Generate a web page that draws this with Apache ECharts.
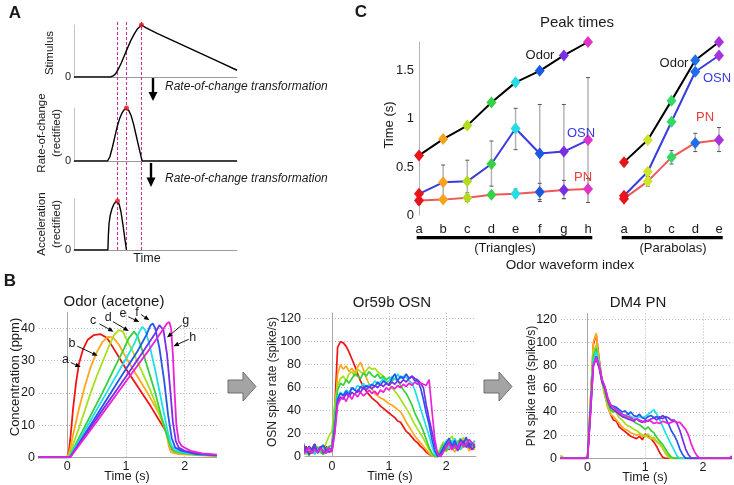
<!DOCTYPE html>
<html><head><meta charset="utf-8">
<script src="https://cdn.jsdelivr.net/npm/echarts@6/dist/echarts.min.js"></script>
<style>html,body{margin:0;padding:0;background:#fff}#c{width:734px;height:485px}</style>
</head><body><div id="c"></div>
<script>
// ---------- Panel A data ----------
const stimT = [0,0.224,0.24,0.255,0.27,0.29,0.31,0.33,0.35,0.37,0.39,0.414,0.44,0.47,0.51,0.6,0.7,0.8,0.9,1.0];
const stimV = [0,0,0.02,0.06,0.14,0.27,0.42,0.57,0.71,0.83,0.93,1.0,0.95,0.9,0.84,0.71,0.565,0.42,0.275,0.13];
const rateT = [0,0.206,0.22,0.235,0.25,0.265,0.28,0.295,0.31,0.322,0.335,0.35,0.365,0.38,0.395,0.41,0.418,1.0];
const rateV = [0,0,0.08,0.25,0.45,0.65,0.8,0.91,0.98,1.0,0.96,0.86,0.7,0.5,0.3,0.1,0,0];
const accT = [0,0.208,0.211,0.215,0.222,0.232,0.245,0.257,0.267,0.277,0.288,0.3,0.312,0.322];
const accV = [0,0,0.3,0.52,0.68,0.8,0.9,0.95,0.96,0.9,0.75,0.5,0.22,0];

// ---------- Panel C data ----------
const triLabels = ['a','b','c','d','e','f','g','h'];
const paraLabels = ['a','b','c','d','e'];
const triColors = ['#e8141c','#f5a21e','#b4dc1e','#38d048','#22dde6','#1c58e0','#7a2ee0','#e033c8'];
const paraColors = ['#e8141c','#cde52a','#33d966','#1f6fe6','#a634de'];
const triOdor = [0.62,0.79,0.93,1.17,1.38,1.50,1.66,1.80];
const triOSN  = [0.22,0.34,0.35,0.53,0.90,0.64,0.66,0.78];
const triOSNlo = [0.19,0.16,0.14,0.30,0.68,0.14,0.17,0.13];
const triOSNhi = [0.25,0.52,0.57,0.77,1.11,1.15,1.15,1.43];
const triPN   = [0.15,0.16,0.18,0.21,0.22,0.24,0.26,0.27];
const triPNlo = [0.11,0.13,0.14,0.18,0.18,0.16,0.17,0.13];
const triPNhi = [0.19,0.19,0.23,0.24,0.27,0.33,0.36,0.38];
const paraOdor = [0.55,0.78,1.19,1.61,1.80];
const paraOSN  = [0.20,0.45,0.97,1.49,1.66];
const paraPN   = [0.17,0.35,0.60,0.75,0.78];
const paraPNlo = [0.14,0.30,0.53,0.66,0.66];
const paraPNhi = [0.20,0.40,0.67,0.85,0.91];

// ---------- Panel B data ----------
const curveNames = ['a','b','c','d','e','f','g','h'];
const curveColors = ['#f01414','#ffa81e','#a6e01a','#36d13a','#1ee0e6','#2356ec','#7a2eec','#ec22d8'];
// Odor concentration (ppm) vs time (s)
const odorA = [[-0.5,0],[0,0],[0.03,2],[0.06,7],[0.1,15],[0.15,23],[0.2,29],[0.27,33.5],[0.35,36.5],[0.45,37.9],[0.57,38.2],[0.68,37],[0.8,33.5],[0.9,30.5],[1.0,27.5],[1.2,22],[1.4,16.5],[1.6,10.5],[1.7,7.5],[1.74,5],[1.78,2.5],[1.83,1.6],[1.95,1.2],[2.2,0.8],[2.55,0.5]];
const odorB = [[-0.5,0],[0,0],[0.05,2.5],[0.1,7],[0.2,15],[0.3,22],[0.4,28],[0.5,32.5],[0.6,35.8],[0.7,37.4],[0.78,37.2],[0.88,35],[1.0,31],[1.2,25],[1.4,19],[1.55,14],[1.65,10],[1.7,7],[1.73,3.5],[1.77,1.5],[1.9,1],[2.2,0.7],[2.55,0.4]];
const odorC = [[-0.5,0],[0.02,0],[0.1,4],[0.2,9],[0.3,14.5],[0.4,20],[0.5,25],[0.6,29.5],[0.7,34],[0.8,38],[0.88,39.5],[0.95,39],[1.0,37],[1.1,33.5],[1.2,29.5],[1.3,25.5],[1.4,21.5],[1.5,17],[1.6,12],[1.7,7],[1.76,3.5],[1.82,1.8],[1.95,1.2],[2.2,0.8],[2.55,0.5]];
const odorD = [[-0.5,0],[0.03,0],[0.2,6],[0.4,13],[0.6,20],[0.8,27.5],[0.95,33],[1.05,37],[1.14,39],[1.2,37.5],[1.3,32],[1.4,26],[1.5,20],[1.6,13],[1.7,6.5],[1.76,3.5],[1.82,2],[1.95,1.3],[2.2,0.8],[2.55,0.5]];
const odorE = [[-0.5,0],[0.04,0],[0.1,2],[0.4,11.5],[0.7,21],[1.0,30.5],[1.15,35.5],[1.23,39],[1.28,40.5],[1.33,39.5],[1.4,35],[1.5,27],[1.6,18],[1.7,9],[1.77,4],[1.83,2.3],[1.95,1.5],[2.2,0.9],[2.55,0.6]];
const odorF = [[-0.5,0],[0.05,0],[0.1,1.5],[0.5,13],[0.9,24.5],[1.2,33],[1.35,38],[1.42,41],[1.46,41.5],[1.5,40],[1.57,34],[1.65,24],[1.72,13],[1.78,6],[1.84,3],[1.95,2],[2.2,1],[2.55,0.6]];
const odorG = [[-0.5,0],[0.05,0],[0.1,1.3],[0.5,12],[1.0,25],[1.3,33],[1.5,38.5],[1.57,41],[1.6,41.3],[1.64,39.5],[1.7,32],[1.76,20],[1.8,11],[1.85,5],[1.9,3],[2.0,2],[2.2,1.2],[2.55,0.7]];
const odorH = [[-0.5,0],[0.05,0],[0.1,1.2],[0.5,11],[1.0,23.5],[1.4,33.5],[1.6,38.8],[1.7,41.5],[1.74,42],[1.77,40],[1.8,32],[1.83,20],[1.86,10],[1.9,5],[1.95,3.5],[2.1,2],[2.3,1.2],[2.55,0.8]];
// annotation (letter position, arrow tail, arrow tip) in odor-panel data coords
const annLabels = ['a','b','c','d','e','f','g','h'];
const annText = [[-0.03,30.4],[0.08,35.2],[0.44,42.3],[0.70,43.3],[0.95,44.5],[1.19,45.0],[2.02,42.3],[2.14,37.2]];
const annTail = [[0.06,29.4],[0.17,34.5],[0.55,41.4],[0.78,42.1],[1.04,43.6],[1.26,44.3],[1.95,41.0],[2.07,36.6]];
const annTip  = [[0.23,28.0],[0.52,31.5],[0.79,39.0],[1.05,39.2],[1.23,42.0],[1.40,42.5],[1.70,37.2],[1.81,34.5]];

// spike-rate time base (s)
const rateTime = [-0.5,-0.45,-0.4,-0.35,-0.3,-0.25,-0.2,-0.15,-0.1,-0.05,0,0.05,0.1,0.15,0.2,0.25,0.3,0.35,0.4,0.45,0.5,0.55,0.6,0.65,0.7,0.75,0.8,0.85,0.9,0.95,1,1.05,1.1,1.15,1.2,1.25,1.3,1.35,1.4,1.45,1.5,1.55,1.6,1.65,1.7,1.75,1.8,1.85,1.9,1.95,2,2.05,2.1,2.15,2.2,2.25,2.3,2.35,2.4,2.45,2.5];
// OSN spike rate (spike/s)
const osnA = [5,9,3,7,11,4,8,3,9,5, 8,42,95,100,99,96,91,85,79,72, 66,61,57,54,51,49,47,44,42,40, 38,36,34,31,30,26,22,20,17,14, 12,9,7,4,2,1,0,0,3,8, 13,6,11,15,8,12,9,13,7,11,8];
const osnB = [3,6,2,5,10,4,7,2,6,4, 6,32,72,80,76,79,74,77,73,78, 82,76,69,63,59,55,53,51,50,48, 46,45,43,41,39,35,30,26,22,18, 15,12,9,6,3,1,0,0,5,10, 6,12,8,4,10,6,9,12,5,8,6];
const osnC = [4,2,8,3,5,9,3,6,12,18, 22,46,62,68,70,66,72,74,70,76, 74,72,75,78,76,77,74,72,70,66, 63,60,57,54,50,46,42,38,33,28, 24,20,16,11,6,2,0,2,8,13, 4,15,18,10,14,7,17,12,15,10,12];
const osnD = [2,5,1,6,3,8,4,2,7,9, 10,36,58,64,62,67,64,68,72,70, 68,73,70,74,71,69,72,68,70,67, 69,66,68,66,62,58,55,50,45,38, 33,28,22,15,8,3,0,1,6,11, 5,9,14,7,12,16,8,11,14,9,10];
const osnE = [6,3,9,4,2,7,5,10,3,6, 5,28,52,56,54,58,56,60,58,62, 60,64,60,63,62,66,63,65,68,64, 66,70,67,72,68,70,69,66,64,58, 50,42,34,26,18,9,2,0,4,9, 14,7,12,16,10,6,13,9,15,11,14];
const osnF = [12,4,9,6,11,3,8,10,5,7, 6,25,50,55,53,57,54,60,58,56, 61,59,62,60,63,61,65,62,66,64, 62,68,72,66,70,68,72,68,70,66, 66,60,50,38,28,15,5,0,3,8, 12,16,9,14,7,15,11,17,8,12,9];
const osnG = [3,7,2,5,8,4,9,3,6,4, 5,22,48,52,50,55,52,56,54,58, 56,60,58,61,59,62,60,63,61,64, 62,65,63,66,64,67,65,68,70,68, 67,64,60,45,33,22,10,3,0,5, 9,13,7,11,5,10,14,8,12,6,9];
const osnH = [2,5,8,3,6,4,7,5,3,8, 4,20,45,50,52,48,54,50,55,52, 56,53,55,58,55,57,54,58,56,60, 58,61,59,62,60,63,61,64,62,65, 63,64,63,62,67,40,15,2,0,4, 8,12,6,10,7,13,9,11,15,12,10];
// PN spike rate (spike/s)
const pnA = [0,0,0,0,0,0,0,0,0,0, 1,48,98,107,86,68,55,45,38,33, 32,27,25,23,21,19,18,17,19,16, 21,19,17,14,10,5,1,0,0,0, 0,0,0,0,0,0,0,0,0,0, 0,0,0,0,0,0,0,0,0,0,0];
const pnB = [0,0,0,0,0,0,0,0,0,0, 1,45,100,108,84,66,54,44,38,36, 33,30,27,25,24,22,21,20,21,19, 20,18,17,18,14,12,9,5,2,0, 0,0,0,0,0,0,0,0,0,0, 0,0,0,0,0,0,0,0,0,0,0];
const pnC = [2,2,0,0,0,0,0,0,0,0, 2,50,92,98,82,66,56,46,40,42, 39,35,33,30,28,27,25,24,22,20, 19,21,18,16,15,13,9,4,1,0, 0,0,0,0,0,0,0,0,0,0, 0,0,0,0,0,0,0,0,0,0,0];
const pnD = [0,0,0,0,0,0,0,0,0,0, 1,46,88,95,80,66,58,48,42,40, 42,38,37,36,34,35,32,30,29,27, 25,27,24,22,18,15,12,8,4,1, 0,0,0,0,0,0,0,0,0,0, 0,0,0,0,0,0,0,0,0,0,0];
const pnE = [0,0,0,0,0,0,0,0,0,0, 0,42,84,92,82,68,60,52,46,44, 43,40,38,37,38,36,35,34,36,35, 36,38,40,42,38,33,28,22,17,12, 7,2,0,0,0,0,0,0,0,0, 0,0,0,0,0,0,0,0,0,0,0];
const pnF = [0,0,0,0,0,0,0,0,0,0, 0,40,80,88,80,68,62,52,46,45, 44,42,40,41,38,40,37,36,38,35, 34,36,37,35,36,34,37,35,30,24, 20,15,8,3,0,0,0,0,0,0, 0,0,0,0,0,0,0,0,0,0,0];
const pnG = [0,0,0,0,0,0,0,0,0,0, 0,38,80,86,78,66,60,50,44,42, 40,38,36,35,34,33,32,34,32,31, 33,32,34,35,33,36,34,36,35,33, 33,30,24,16,8,3,0,0,0,0, 0,0,0,0,0,0,0,0,0,0,0];
const pnH = [0,0,0,0,0,0,0,0,0,0, 0,38,80,87,80,68,62,52,46,44, 42,40,38,37,36,35,33,34,33,32, 31,33,32,30,31,30,32,31,30,31, 32,31,31,28,25,20,12,6,2,0, 0,0,0,0,0,0,0,0,0,0,2];

// ---------- build ----------
const FONT = '"Liberation Sans", Arial, Helvetica, sans-serif';
const TXT = '#1a1a1a';
const AX = '#a8a8a8';
const odorCurves = [odorA,odorB,odorC,odorD,odorE,odorF,odorG,odorH];
const osnCurves = [osnA,osnB,osnC,osnD,osnE,osnF,osnG,osnH];
const pnCurves = [pnA,pnB,pnC,pnD,pnE,pnF,pnG,pnH];
const zip = (xs, ys) => xs.map((x, i) => [x, ys[i]]);
const argmax = ys => ys.reduce((b, v, i) => v > ys[b] ? i : b, 0);

const grids = [
  {left:74, top:25, width:163, height:52},
  {left:74, top:108, width:163, height:53},
  {left:74, top:199, width:163, height:51},
  {left:74, top:22, width:163, height:228},
  {left:419, top:42, width:169, height:173},
  {left:624, top:42, width:95, height:173},
  {left:39, top:312.3, width:177.9, height:145},
  {left:305, top:313, width:171, height:143.7},
  {left:561, top:313.5, width:170.8, height:144.8}
];

const xAxes = [], yAxes = [];
// A
for (let g = 0; g < 3; g++) {
  xAxes.push({gridIndex:g, type:'value', min:0, max:1, axisLine:{show:true, onZero:false, lineStyle:{color:'#9a9a9a', width:1}}, axisTick:{show:false}, axisLabel:{show:false}, splitLine:{show:false}});
  yAxes.push({gridIndex:g, type:'value', min:0, max:1, axisLine:{show:true, lineStyle:{color:'#c4c4c4'}}, axisTick:{show:false}, axisLabel:{show:true, customValues:[0], fontSize:11, color:TXT, fontFamily:FONT, margin:3}, splitLine:{show:false}});
}
xAxes.push({gridIndex:3, type:'value', min:0, max:1, show:false});
yAxes.push({gridIndex:3, type:'value', min:0, max:1, show:false});
// C
xAxes.push({gridIndex:4, type:'category', data:triLabels, boundaryGap:false, axisLine:{show:false}, axisTick:{show:false}, axisLabel:{fontSize:13, color:TXT, fontFamily:FONT, margin:8}});
yAxes.push({gridIndex:4, type:'value', min:0, max:1.8, axisLine:{show:true, lineStyle:{color:'#b4b4b4'}}, axisTick:{show:false}, axisLabel:{customValues:[0,0.5,1,1.5], fontSize:13, color:TXT, fontFamily:FONT, margin:5}, splitLine:{show:false}});
xAxes.push({gridIndex:5, type:'category', data:paraLabels, boundaryGap:false, axisLine:{show:false}, axisTick:{show:false}, axisLabel:{fontSize:13, color:TXT, fontFamily:FONT, margin:8}});
yAxes.push({gridIndex:5, type:'value', min:0, max:1.8, show:false});
// B
const bX = [[-0.48,2.55],[-0.47,2.52],[-0.46,2.5]];
const bY = [[45,[0,10,20,30,40]],[125,[0,20,40,60,80,100,120]],[125,[0,20,40,60,80,100,120]]];
for (let k = 0; k < 3; k++) {
  const g = 6 + k;
  xAxes.push({gridIndex:g, type:'value', min:bX[k][0], max:bX[k][1],
    axisLine:{show:true, onZero:false, lineStyle:{color:AX}},
    axisTick:{show:false, customValues:[0,1,2]},
    axisLabel:{customValues:[0,1,2], fontSize:12.5, color:TXT, fontFamily:FONT, margin:3},
    splitLine:{show:true, lineStyle:{type:[1,2], color:'#b8b8b8', width:1}}});
  yAxes.push({gridIndex:g, type:'value', min:0, max:bY[k][0],
    axisLine:{show:true, lineStyle:{color:AX}},
    axisTick:{show:false, customValues:bY[k][1]},
    axisLabel:{customValues:bY[k][1], fontSize:12.5, color:TXT, fontFamily:FONT, margin:4},
    splitLine:{show:true, lineStyle:{type:[1,2], color:'#b8b8b8', width:1}}});
}

const series = [];
// A curves
const aCurves = [[stimT,stimV],[rateT,rateV],[accT,accV]];
const peakTimes = [];
aCurves.forEach((c, g) => {
  series.push({type:'line', xAxisIndex:g, yAxisIndex:g, data:zip(c[0], c[1]), showSymbol:false, symbol:'none', lineStyle:{color:'#000', width:1.4}, z:3, silent:true});
  const im = argmax(c[1]);
  peakTimes.push(c[0][im]);
  series.push({type:'scatter', xAxisIndex:g, yAxisIndex:g, data:[[c[0][im], c[1][im]]], symbol:'circle', symbolSize:5, itemStyle:{color:'#e8141c'}, z:5, silent:true});
});
peakTimes.forEach(t => {
  series.push({type:'line', xAxisIndex:3, yAxisIndex:3, data:[[t,0],[t,1]], showSymbol:false, symbol:'none', lineStyle:{color:'#c8349c', width:1.1, type:[3,2]}, z:2, silent:true});
});

// C series
function errSeries(xi, lo, hi) {
  return {type:'custom', xAxisIndex:xi, yAxisIndex:xi, z:1, silent:true,
    data: lo.map((l, i) => [i, l, hi[i]]),
    encode:{x:0, y:[1,2]},
    renderItem: (params, api) => {
      const p1 = api.coord([api.value(0), api.value(1)]);
      const p2 = api.coord([api.value(0), api.value(2)]);
      return {type:'group', children:[
        {type:'line', shape:{x1:p1[0], y1:p1[1], x2:p2[0], y2:p2[1]}, style:{stroke:'#b4b4b4', lineWidth:1.5}},
        {type:'line', shape:{x1:p1[0]-2, y1:p1[1], x2:p1[0]+2, y2:p1[1]}, style:{stroke:'#555', lineWidth:1}},
        {type:'line', shape:{x1:p2[0]-2, y1:p2[1], x2:p2[0]+2, y2:p2[1]}, style:{stroke:'#555', lineWidth:1}}
      ]};
    }};
}
series.push(errSeries(4, triOSNlo, triOSNhi));
series.push(errSeries(4, triPNlo, triPNhi));
series.push(errSeries(5, paraPNlo, paraPNhi));
function peakSeries(xi, vals, colors, lineColor) {
  return {type:'line', xAxisIndex:xi, yAxisIndex:xi, z:3, silent:true,
    data: vals.map((v, i) => ({value:v, itemStyle:{color:colors[i], borderWidth:0}})),
    symbol:'diamond', symbolSize:[10,12], showSymbol:true,
    lineStyle:{color:lineColor, width:2}, itemStyle:{color:lineColor}};
}
const cOdor = '#000', cOSN = '#3a3ae0', cPN = '#f05858';
series.push(peakSeries(4, triPN, triColors, cPN));
series.push(peakSeries(4, triOSN, triColors, cOSN));
series.push(peakSeries(4, triOdor, triColors, cOdor));
series.push(peakSeries(5, paraPN, paraColors, cPN));
series.push(peakSeries(5, paraOSN, paraColors, cOSN));
series.push(peakSeries(5, paraOdor, paraColors, cOdor));

// B series
odorCurves.forEach((c, i) => series.push({type:'line', xAxisIndex:6, yAxisIndex:6, data:c, showSymbol:false, symbol:'none', lineStyle:{color:curveColors[i], width:1.8}, silent:true, z:3}));
osnCurves.forEach((c, i) => series.push({type:'line', xAxisIndex:7, yAxisIndex:7, data:zip(rateTime, c), showSymbol:false, symbol:'none', lineStyle:{color:curveColors[i], width:1.7}, silent:true, z:3}));
pnCurves.forEach((c, i) => series.push({type:'line', xAxisIndex:8, yAxisIndex:8, data:zip(rateTime, c), showSymbol:false, symbol:'none', lineStyle:{color:curveColors[i], width:1.7}, silent:true, z:3}));
// annotations
series.push({type:'custom', xAxisIndex:6, yAxisIndex:6, z:6, silent:true, clip:false,
  data: annText.map((p, i) => [p[0], p[1], annTail[i][0], annTail[i][1], annTip[i][0], annTip[i][1]]),
  encode:{x:[0,2,4], y:[1,3,5]},
  renderItem: (params, api) => {
    const txt = api.coord([api.value(0), api.value(1)]);
    const a = api.coord([api.value(2), api.value(3)]);
    const b = api.coord([api.value(4), api.value(5)]);
    const ang = Math.atan2(b[1]-a[1], b[0]-a[0]);
    const L = 5.5, W = 2.3;
    const bx = b[0] - L*Math.cos(ang), by = b[1] - L*Math.sin(ang);
    const p1 = [bx + W*Math.sin(ang), by - W*Math.cos(ang)];
    const p2 = [bx - W*Math.sin(ang), by + W*Math.cos(ang)];
    return {type:'group', children:[
      {type:'line', shape:{x1:a[0], y1:a[1], x2:bx, y2:by}, style:{stroke:'#000', lineWidth:0.9}},
      {type:'polygon', shape:{points:[b, p1, p2]}, style:{fill:'#000'}},
      {type:'text', x:txt[0], y:txt[1], style:{text:annLabels[params.dataIndex], fill:TXT, font:'12.5px ' + FONT, align:'center', verticalAlign:'middle'}}
    ]};
  }});

// ---------- graphic text / decorations ----------
function T(text, x, y, o) {
  o = o || {};
  return {type:'text', x:x, y:y, rotation:o.rot || 0, z:20, silent:true,
    style:{text:text, fill:o.color || TXT, font:(o.style || '') + ' ' + (o.weight || 'normal') + ' ' + (o.size || 12) + 'px ' + FONT, align:o.align || 'center', verticalAlign:'middle'}};
}
const R = Math.PI / 2;
const graphic = [
  T('A', 15, 13, {size:17, weight:'bold'}),
  T('B', 10, 281, {size:17, weight:'bold'}),
  T('C', 361, 12, {size:17, weight:'bold'}),
  // panel A labels
  T('Stimulus', 50, 53, {rot:R, size:11.5}),
  T('Rate-of-change', 42, 133, {rot:R, size:11.5}),
  T('(rectified)', 57, 133, {rot:R, size:11.5}),
  T('Acceleration', 42, 224, {rot:R, size:11.5}),
  T('(rectified)', 57, 224, {rot:R, size:11.5}),
  T('Time', 147, 259, {size:12.5}),
  T('Rate-of-change transformation', 165, 87, {align:'left', style:'italic', size:12}),
  T('Rate-of-change transformation', 165, 179, {align:'left', style:'italic', size:12}),
  {type:'rect', shape:{x:151.8, y:78, width:2.4, height:15}, style:{fill:'#000'}, z:20, silent:true},
  {type:'polygon', shape:{points:[[148.5,92],[157.5,92],[153,101]]}, style:{fill:'#000'}, z:20, silent:true},
  {type:'rect', shape:{x:149.8, y:163, width:2.4, height:15}, style:{fill:'#000'}, z:20, silent:true},
  {type:'polygon', shape:{points:[[146.5,177.5],[155.5,177.5],[151,187]]}, style:{fill:'#000'}, z:20, silent:true},
  // panel C labels
  T('Peak times', 577, 23, {size:15}),
  T('Time (s)', 389, 125, {rot:R, size:13}),
  T('Odor', 540, 55, {size:13}),
  T('Odor', 674, 63, {size:13}),
  T('OSN', 581, 133, {size:13, color:'#3a3ae0'}),
  T('OSN', 717, 78, {size:13, color:'#3a3ae0'}),
  T('PN', 583, 177, {size:13, color:'#ea3c3c'}),
  T('PN', 705, 117, {size:13, color:'#ea3c3c'}),
  {type:'rect', shape:{x:416.7, y:236, width:175.6, height:3.2}, style:{fill:'#000'}, z:20, silent:true},
  {type:'rect', shape:{x:621.7, y:236, width:101, height:3.2}, style:{fill:'#000'}, z:20, silent:true},
  T('(Triangles)', 505, 248, {size:13}),
  T('(Parabolas)', 673, 248, {size:13}),
  T('Odor waveform index', 570, 265, {size:13.5}),
  // panel B labels
  T('Odor (acetone)', 114, 302, {size:15}),
  T('Or59b OSN', 392, 303, {size:15}),
  T('DM4 PN', 638, 303, {size:15}),
  T('Concentration (ppm)', 15, 377, {rot:R, size:13}),
  T('OSN spike rate (spike/s)', 273, 382, {rot:R, size:12}),
  T('PN spike rate (spike/s)', 532, 386, {rot:R, size:12}),
  T('Time (s)', 127, 477, {size:12.5}),
  T('Time (s)', 390, 477, {size:12.5}),
  T('Time (s)', 645, 478, {size:12.5}),
  {type:'polygon', shape:{points:[[228,380],[243,380],[243,372],[256,386.5],[243,401],[243,393],[228,393]]}, style:{fill:'#a4a4a4', stroke:'#6e6e6e', lineWidth:1}, z:20, silent:true},
  {type:'polygon', shape:{points:[[484,380],[499,380],[499,372],[512,386.5],[499,401],[499,393],[484,393]]}, style:{fill:'#a4a4a4', stroke:'#6e6e6e', lineWidth:1}, z:20, silent:true}
];

const chart = echarts.init(document.getElementById('c'), null, {renderer:'canvas'});
chart.setOption({
  backgroundColor:'#ffffff',
  animation:false,
  textStyle:{fontFamily:FONT},
  grid:grids,
  xAxis:xAxes,
  yAxis:yAxes,
  series:series,
  graphic:graphic
});
</script></body></html>
